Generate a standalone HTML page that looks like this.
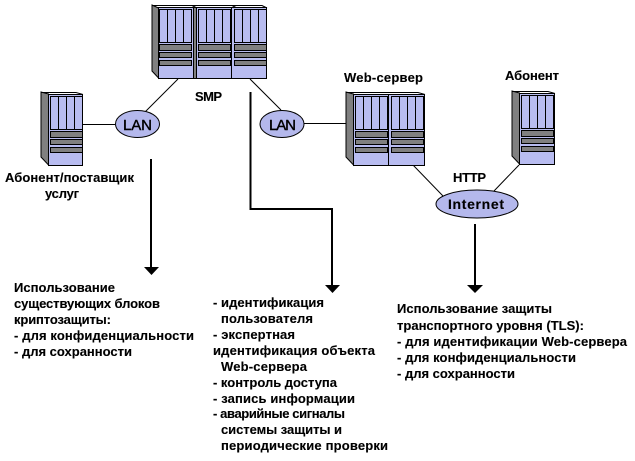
<!DOCTYPE html>
<html>
<head>
<meta charset="utf-8">
<style>
html,body{margin:0;padding:0;background:#fff;}
svg{display:block;}
text{font-family:"Liberation Sans",sans-serif;font-weight:bold;font-size:13px;fill:#000;stroke:#000;stroke-width:.12;}
</style>
</head>
<body>
<svg width="635" height="461" viewBox="0 0 635 461" xmlns="http://www.w3.org/2000/svg">
<defs>
<g id="unit">
  <rect x="0" y="0" width="32" height="33" fill="#b8bcf0" stroke="#000" stroke-width="1"/>
  <path d="M8 0V33M16 0V33M24 0V33" stroke="#000" stroke-width="1"/>
  <rect x="0" y="35" width="32" height="6" fill="#808080" stroke="#000" stroke-width="1"/>
  <rect x="0" y="43" width="32" height="5" fill="#808080" stroke="#000" stroke-width="1"/>
  <rect x="0" y="51" width="32" height="5" fill="#808080" stroke="#000" stroke-width="1"/>
</g>
</defs>

<!-- thin connectors -->
<g stroke="#000" stroke-width="1" fill="none">
  <path d="M83 124.500H115"/>
  <path d="M178 79L145 112"/>
  <path d="M250 79L281 110"/>
  <path d="M304 123.500H347"/>
  <path d="M413 165L443 196"/>
  <path d="M519 165L494 191"/>
</g>

<!-- left server -->
<polygon points="41,92 48.500,94 48.500,165 41,157" fill="#808080" stroke="#000" stroke-width="1"/>
<path d="M41 92.500H76L83 94.500" fill="none" stroke="#000" stroke-width="1"/>
<rect x="48.500" y="94.500" width="34" height="71" fill="#b8bcf0" stroke="#000" stroke-width="1"/>
<use href="#unit" x="50.500" y="96.500"/>

<!-- SMP -->
<polygon points="152,5 158.500,8 158.500,78 152,71" fill="#808080" stroke="#000" stroke-width="1"/>
<path d="M152 5.500H192L196 7.500M192 5.500H232L236 7.500M232 5.500H262L267 8" fill="none" stroke="#000" stroke-width="1"/>
<rect x="158.500" y="7.500" width="108" height="71" fill="#b8bcf0" stroke="#000" stroke-width="1"/>
<rect x="193.500" y="7.500" width="3" height="71" fill="#808080" stroke="#000" stroke-width="1"/>
<path d="M231.500 8V78" stroke="#000" stroke-width="1"/>
<use href="#unit" x="159.500" y="9.500"/>
<use href="#unit" x="198.500" y="9.500"/>
<use href="#unit" x="234.500" y="9.500"/>

<!-- Web server -->
<polygon points="346,92 353.500,94 353.500,165 346,157" fill="#808080" stroke="#000" stroke-width="1"/>
<path d="M346 92.500H418L425 94.500" fill="none" stroke="#000" stroke-width="1"/>
<rect x="353.500" y="94.500" width="71" height="71" fill="#b8bcf0" stroke="#000" stroke-width="1"/>
<path d="M388.500 94V165" stroke="#000" stroke-width="1"/>
<use href="#unit" x="355.500" y="96.500"/>
<use href="#unit" x="391.500" y="96.500"/>

<!-- Abonent server -->
<polygon points="512,91 519.500,93 519.500,164 512,156" fill="#808080" stroke="#000" stroke-width="1"/>
<path d="M512 91.500H548L555 93.500" fill="none" stroke="#000" stroke-width="1"/>
<rect x="519.500" y="93.500" width="35" height="71" fill="#b8bcf0" stroke="#000" stroke-width="1"/>
<use href="#unit" x="521.500" y="95.500"/>

<!-- ellipses -->
<g fill="#b4b8ec" stroke="#000" stroke-width="1">
  <ellipse cx="137.500" cy="124" rx="22" ry="13.500"/>
  <ellipse cx="282" cy="124" rx="22" ry="13.500"/>
  <ellipse cx="477" cy="204" rx="41" ry="14"/>
</g>

<!-- thick arrows -->
<g stroke="#000" stroke-width="2" fill="none">
  <path d="M151 159V268"/>
  <path d="M250.500 92V209H332V286"/>
  <path d="M475 224V286"/>
</g>
<g fill="#000">
  <polygon points="144,267 159,267 151.500,275"/>
  <polygon points="325,285 340,285 332.500,293"/>
  <polygon points="467,285 483,285 475,293"/>
</g>

<!-- labels -->
<text x="123" y="130" style="font-size:15px;font-weight:normal;stroke-width:.4" textLength="29">LAN</text>
<text x="269" y="130" style="font-size:15px;font-weight:normal;stroke-width:.4" textLength="27">LAN</text>
<text x="448" y="209" style="font-size:14px" textLength="56">Internet</text>
<text x="195" y="101" textLength="27">SMP</text>
<text x="5" y="182" textLength="129">Абонент/поставщик</text>
<text x="45" y="198" textLength="34">услуг</text>
<text x="344" y="82" textLength="79">Web-сервер</text>
<text x="505" y="80" textLength="54">Абонент</text>
<text x="453" y="182" textLength="33">HTTP</text>

<!-- left block -->
<text x="14" y="292" textLength="101">Использование</text>
<text x="14" y="308" textLength="146">существующих блоков</text>
<text x="14" y="324" textLength="97">криптозащиты:</text>
<text x="14" y="340" textLength="180">- для  конфиденциальности</text>
<text x="14" y="356" textLength="118">- для сохранности</text>

<!-- middle block -->
<text x="213" y="307" textLength="111">- идентификация</text>
<text x="221" y="323" textLength="92">пользователя</text>
<text x="213" y="339" textLength="82">- экспертная</text>
<text x="213" y="355" textLength="162">идентификация объекта</text>
<text x="221" y="371" textLength="86">Web-сервера</text>
<text x="213" y="387" textLength="124">- контроль доступа</text>
<text x="213" y="403" textLength="142">- запись информации</text>
<text x="213" y="418" textLength="132">- аварийные сигналы</text>
<text x="221" y="434" textLength="121">системы защиты и</text>
<text x="221" y="450" textLength="167">периодические проверки</text>

<!-- right block -->
<text x="397" y="313" textLength="155">Использование защиты</text>
<text x="397" y="330" textLength="187">транспортного уровня (TLS):</text>
<text x="397" y="346" textLength="230">- для идентификации Web-сервера</text>
<text x="397" y="362" textLength="179">- для конфиденциальности</text>
<text x="397" y="378" textLength="118">- для сохранности</text>
</svg>
</body>
</html>
